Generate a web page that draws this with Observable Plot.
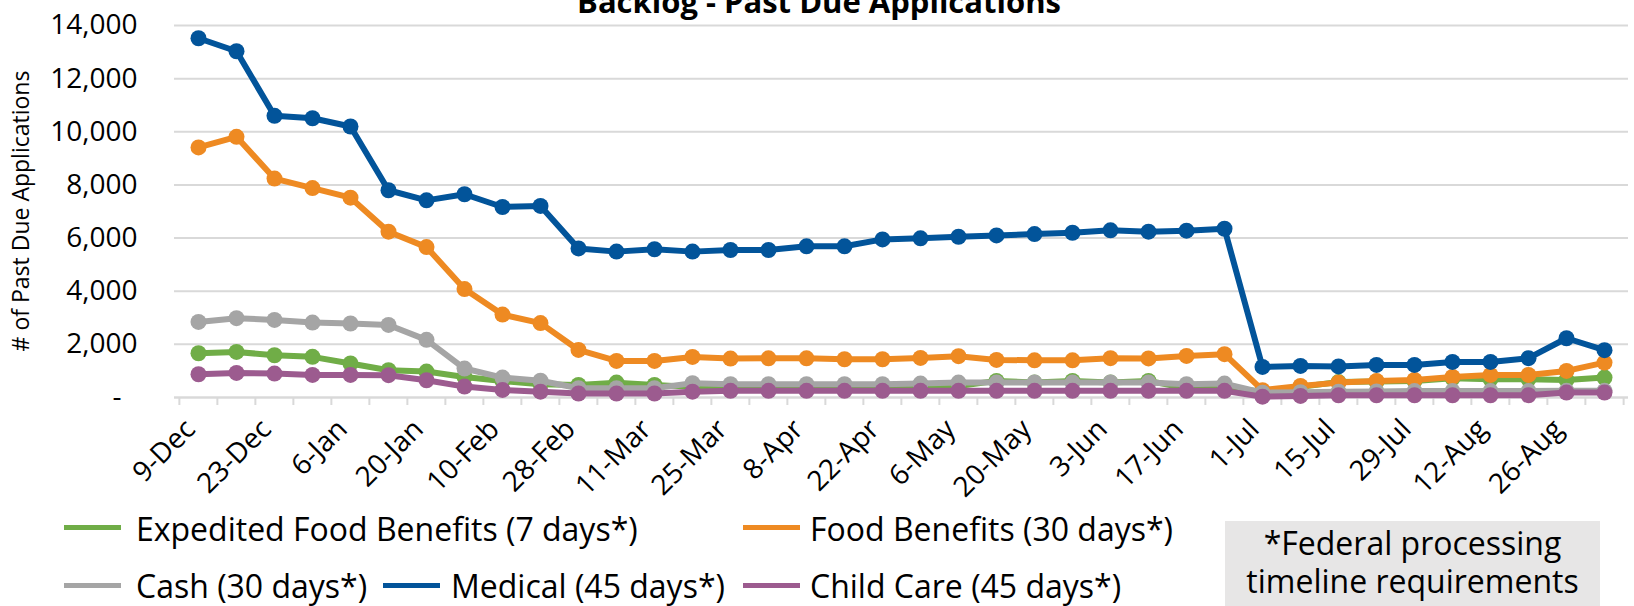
<!DOCTYPE html>
<html>
<head>
<meta charset="utf-8">
<script src="https://cdn.jsdelivr.net/npm/d3@7"></script>
<script src="https://cdn.jsdelivr.net/npm/@observablehq/plot@0.6"></script>
<style>
  body { margin: 0; background: #fff; font-family: "Open Sans", sans-serif; color: #000; }
  #wrap { position: relative; width: 1634px; height: 606px; overflow: hidden; background: #fff; }
  #chart { position: absolute; left: 0; top: 0; }
  #title { position: absolute; left: 819px; top: -14px; transform: translateX(-50%); white-space: nowrap;
           font-weight: bold; font-size: 31px; line-height: 31px; }
  #ylabel { position: absolute; left: 20px; top: 211px; transform: translate(-50%, -50%) rotate(-90deg);
            white-space: nowrap; font-size: 23px; line-height: 23px; }
  .lg-item { position: absolute; white-space: nowrap; font-size: 32px; line-height: 32px; }
  .lg-sw { position: absolute; height: 5px; }
  #notebox { position: absolute; left: 1225px; top: 521px; width: 375px; height: 100px; background: #e7e6e6; }
  #note { position: absolute; left: 1225px; top: 523.6px; width: 375px; text-align: center; font-size: 32px; line-height: 38px; white-space: nowrap; }
</style>
</head>
<body>
<div id="wrap">
  <div id="chart"></div>
  <div id="title">Backlog - Past Due Applications</div>
  <div id="ylabel"># of Past Due Applications</div>
  <div id="legend"></div>
  <div id="notebox"></div>
  <div id="note"></div>
</div>
<script>
// ---- data ----
const categories = ["9-Dec","16-Dec","23-Dec","30-Dec","6-Jan","13-Jan","20-Jan","27-Jan","10-Feb","17-Feb",
  "28-Feb","4-Mar","11-Mar","18-Mar","25-Mar","1-Apr","8-Apr","15-Apr","22-Apr","29-Apr",
  "6-May","13-May","20-May","27-May","3-Jun","10-Jun","17-Jun","24-Jun","1-Jul","8-Jul",
  "15-Jul","22-Jul","29-Jul","5-Aug","12-Aug","19-Aug","26-Aug","2-Sep"];
const tickLabels = ["9-Dec","23-Dec","6-Jan","20-Jan","10-Feb","28-Feb","11-Mar","25-Mar","8-Apr","22-Apr",
  "6-May","20-May","3-Jun","17-Jun","1-Jul","15-Jul","29-Jul","12-Aug","26-Aug"];
const yTicks = [0, 2000, 4000, 6000, 8000, 10000, 12000, 14000];

const expedited = [1665,1715,1590,1530,1280,1025,975,775,625,500,
  475,560,475,400,400,400,400,420,420,400,
  435,625,560,625,560,625,350,350,225,400,
  580,600,625,725,690,690,660,750];
const food = [9410,9810,8240,7880,7520,6240,5660,4080,3120,2800,
  1790,1377,1377,1528,1465,1475,1475,1440,1440,1490,
  1555,1415,1400,1400,1480,1470,1565,1630,275,435,
  560,625,660,775,850,850,1000,1315];
const cash = [2845,2985,2920,2820,2785,2730,2170,1090,750,630,
  350,350,350,540,500,500,500,500,500,525,
  560,560,560,560,560,560,500,525,180,200,
  220,230,240,240,240,240,250,250];
const medical = [13520,13030,10600,10510,10200,7800,7420,7650,7170,7210,
  5610,5490,5580,5490,5550,5550,5690,5690,5950,5990,
  6050,6100,6150,6200,6290,6240,6280,6350,1150,1190,
  1170,1225,1225,1340,1340,1480,2230,1780];
const childCare = [875,925,900,850,850,840,650,410,285,220,
  150,150,150,220,250,250,250,250,250,250,
  250,250,250,250,250,250,250,250,30,60,
  85,85,85,85,85,85,185,185];

const seriesNames = ["Expedited Food Benefits (7 days*)","Food Benefits (30 days*)","Cash (30 days*)","Medical (45 days*)","Child Care (45 days*)"];
const seriesColors = ["#70ad47","#ee8a22","#a5a5a5","#02549a","#9c5b8f"];
const seriesValues = [expedited, food, cash, medical, childCare];
const noteLines = ["*Federal processing","timeline requirements"];

// ---- chart ----
const W = 1634, H = 500, mL = 174, mR = 6, mT = 25, mB = 103;
const step = (W - mL - mR) / categories.length;

const marks = [
  Plot.gridY(yTicks, {stroke: "#d9d9d9", strokeOpacity: 1, strokeWidth: 2}),
  Plot.ruleY([0], {stroke: "#d9d9d9", strokeWidth: 2}),
  Plot.axisX({ticks: categories, tickSize: 8, tickFormat: () => "", dx: -step / 2, stroke: "#d9d9d9", strokeWidth: 2, label: null}),
  Plot.axisX({ticks: [categories[categories.length - 1]], tickSize: 8, tickFormat: () => "", dx: step / 2, stroke: "#d9d9d9", strokeWidth: 2, label: null}),
  Plot.axisX({ticks: tickLabels, tickSize: 0, tickRotate: -45, tickPadding: 27, dx: -8, fontSize: 28, label: null}),
  Plot.axisY({ticks: yTicks, tickSize: 0, tickPadding: 37, fontSize: 28, label: null,
    tickFormat: d => d === 0 ? "-\u2007" : d3.format(",")(d)})
];
seriesValues.forEach((vals, s) => {
  const rows = categories.map((c, i) => ({cat: c, value: vals[i]}));
  marks.push(Plot.line(rows, {x: "cat", y: "value", stroke: seriesColors[s], strokeWidth: 6, strokeLinejoin: "round", strokeLinecap: "round"}));
  marks.push(Plot.dot(rows, {x: "cat", y: "value", fill: seriesColors[s], r: 8, stroke: "none"}));
});

const chart = Plot.plot({
  width: W, height: H,
  marginLeft: mL, marginRight: mR, marginTop: mT, marginBottom: mB,
  x: {type: "point", domain: categories, padding: 0.5},
  y: {domain: [0, 14000]},
  style: {fontFamily: "Open Sans", fontSize: "28px", color: "#000", background: "transparent", overflow: "visible"},
  marks
});
document.getElementById("chart").appendChild(chart);

// ---- legend ----
const legendLayout = [
  {s: 0, sw: 64, tx: 136, row: 0},
  {s: 1, sw: 743, tx: 810, row: 0},
  {s: 2, sw: 64, tx: 136, row: 1},
  {s: 3, sw: 383, tx: 451, row: 1},
  {s: 4, sw: 743, tx: 810, row: 1}
];
const rowTop = [513, 570];
const swY = [527, 585];
const legend = document.getElementById("legend");
legendLayout.forEach(it => {
  const sw = document.createElement("div");
  sw.className = "lg-sw";
  sw.style.left = it.sw + "px"; sw.style.width = "57px";
  sw.style.top = (swY[it.row] - 2.5) + "px";
  sw.style.background = seriesColors[it.s];
  legend.appendChild(sw);
  const t = document.createElement("div");
  t.className = "lg-item";
  t.style.left = it.tx + "px"; t.style.top = rowTop[it.row] + "px";
  t.textContent = seriesNames[it.s];
  legend.appendChild(t);
});

// ---- note ----
const note = document.getElementById("note");
noteLines.forEach((line, i) => {
  if (i > 0) note.appendChild(document.createElement("br"));
  note.appendChild(document.createTextNode(line));
});
</script>
</body>
</html>
